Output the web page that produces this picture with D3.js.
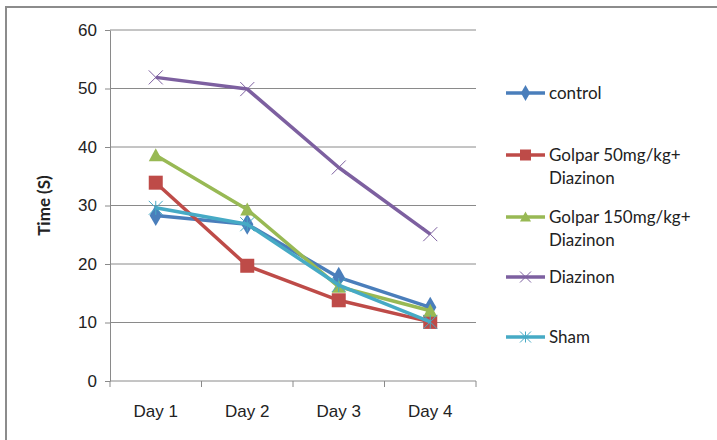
<!DOCTYPE html>
<html>
<head>
<meta charset="utf-8">
<script src="https://cdn.jsdelivr.net/npm/d3@7"></script>
<style>
  body { margin: 0; background: #fff; }
  svg { display: block; font-family: Lato, "Open Sans", sans-serif; }
</style>
</head>
<body>
<script>
// prettier-ignore
const days = ["Day 1", "Day 2", "Day 3", "Day 4"];
const yTicks = [0, 10, 20, 30, 40, 50, 60];

const controlValues = [28.3, 26.8, 17.7, 12.6];
const golpar50Values = [33.9, 19.7, 13.8, 10.1];
const golpar150Values = [38.6, 29.3, 16.1, 12.0];
const diazinonValues = [51.9, 49.9, 36.5, 25.1];
const shamValues = [29.6, 26.8, 16.4, 10.1];

const seriesNames = [
  ["control"],
  ["Golpar 50mg/kg+", "Diazinon"],
  ["Golpar 150mg/kg+", "Diazinon"],
  ["Diazinon"],
  ["Sham"],
];

const series = [
  { name: seriesNames[0], values: controlValues, color: "#4a7ebb", marker: "diamond" },
  { name: seriesNames[1], values: golpar50Values, color: "#be4b48", marker: "square" },
  { name: seriesNames[2], values: golpar150Values, color: "#98b954", marker: "triangle" },
  { name: seriesNames[3], values: diazinonValues, color: "#7d60a0", marker: "x" },
  { name: seriesNames[4], values: shamValues, color: "#46aac5", marker: "star" },
];

const width = 717;
const height = 440;
const margin = { top: 30, left: 110, right: 241, bottom: 59 };
const fontSize = "17px";

const svg = d3
  .select("body")
  .append("svg")
  .attr("width", width)
  .attr("height", height);

// outer chart frame
svg
  .append("rect")
  .attr("x", 6)
  .attr("y", 7)
  .attr("width", 740)
  .attr("height", 460)
  .attr("fill", "none")
  .attr("stroke", "#8c8c8c")
  .attr("stroke-width", 2);

const xScale = d3
  .scaleBand()
  .domain(days)
  .range([margin.left, width - margin.right]);

const yScale = d3
  .scaleLinear()
  .domain([0, 60])
  .range([height - margin.bottom, margin.top]);

// gridlines
svg
  .append("g")
  .selectAll("line")
  .data(yTicks.filter((d) => d > 0))
  .join("line")
  .attr("x1", margin.left)
  .attr("x2", width - margin.right)
  .attr("y1", (d) => yScale(d))
  .attr("y2", (d) => yScale(d))
  .attr("stroke", "#8a8a8a")
  .attr("stroke-width", 1);

const yAxis = d3
  .axisLeft(yScale)
  .tickValues(yTicks)
  .tickSize(5)
  .tickPadding(8)
  .tickSizeOuter(0);

const yAxisGroup = svg
  .append("g")
  .attr("transform", `translate(${margin.left},0)`)
  .call(yAxis);

const xAxis = d3.axisBottom(xScale).tickSize(0).tickPadding(24);

const xAxisGroup = svg
  .append("g")
  .attr("transform", `translate(0,${yScale(0)})`)
  .call(xAxis);

// tick marks between categories on x axis
xAxisGroup
  .selectAll("line.sep")
  .data(days.map((d) => xScale(d)).concat([xScale.range()[1]]))
  .join("line")
  .attr("class", "sep")
  .attr("x1", (d) => d)
  .attr("x2", (d) => d)
  .attr("y1", 0)
  .attr("y2", 6)
  .attr("stroke", "#8a8a8a");

[yAxisGroup, xAxisGroup].forEach((g) => {
  g.selectAll(".domain, .tick line").attr("stroke", "#8a8a8a");
  g.selectAll("text")
    .attr("fill", "#222")
    .style("font-size", fontSize);
});
xAxisGroup.select(".domain").attr("d", `M${xScale.range()[0]},0H${xScale.range()[1]}`);

svg
  .append("text")
  .attr("transform", `translate(50,${(yScale(0) + yScale(60)) / 2}) rotate(-90)`)
  .attr("text-anchor", "middle")
  .style("font-size", fontSize)
  .style("font-weight", "bold")
  .attr("fill", "#222")
  .text("Time (S)");

const xCenter = (d) => xScale(d) + xScale.bandwidth() / 2;

const drawMarker = (g, type, color, size) => {
  if (type === "diamond") {
    g.append("path")
      .attr("d", d3.symbol(d3.symbolDiamond, size * size * 0.9)())
      .attr("fill", color);
  } else if (type === "square") {
    g.append("rect")
      .attr("x", -size / 2)
      .attr("y", -size / 2)
      .attr("width", size)
      .attr("height", size)
      .attr("fill", color);
  } else if (type === "triangle") {
    g.append("path")
      .attr("d", `M0,${-size / 2 - 1}L${size / 2 + 1},${size / 2}L${-size / 2 - 1},${size / 2}Z`)
      .attr("fill", color);
  } else if (type === "x") {
    const s = size / 2 + 1;
    g.append("path")
      .attr("d", `M${-s},${-s}L${s},${s}M${-s},${s}L${s},${-s}`)
      .attr("stroke", color)
      .attr("stroke-width", 1);
  } else if (type === "star") {
    const s = size / 2 + 1;
    g.append("path")
      .attr("d", `M${-s},${-s}L${s},${s}M${-s},${s}L${s},${-s}M0,${-s}L0,${s}`)
      .attr("stroke", color)
      .attr("stroke-width", 1);
  }
};

const line = d3
  .line()
  .x((d, i) => xCenter(days[i]))
  .y((d) => yScale(d));

const seriesGroups = svg
  .append("g")
  .selectAll("g.series")
  .data(series)
  .join("g")
  .attr("class", "series");

seriesGroups
  .append("path")
  .attr("d", (d) => line(d.values))
  .attr("fill", "none")
  .attr("stroke", (d) => d.color)
  .attr("stroke-width", 3.5)
  .attr("stroke-linejoin", "round");

seriesGroups.each(function (s) {
  const g = d3.select(this);
  s.values.forEach((v, i) => {
    const m = g
      .append("g")
      .attr("transform", `translate(${xCenter(days[i])},${yScale(v)})`);
    drawMarker(m, s.marker, s.color, s.marker === "square" ? 14 : 12);
  });
});

// legend
const legendRows = [93, 155, 217, 277, 337];
const legend = svg
  .append("g")
  .selectAll("g.legend")
  .data(series)
  .join("g")
  .attr("class", "legend")
  .attr("transform", (d, i) => `translate(506,${legendRows[i]})`);

legend
  .append("line")
  .attr("x1", 0)
  .attr("x2", 39)
  .attr("stroke", (d) => d.color)
  .attr("stroke-width", 3.5);

legend.each(function (s) {
  const m = d3.select(this).append("g").attr("transform", "translate(19.5,0)");
  drawMarker(m, s.marker, s.color, s.marker === "square" ? 11 : 9);
});

legend
  .append("text")
  .attr("x", 43)
  .attr("fill", "#222")
  .style("font-size", fontSize)
  .selectAll("tspan")
  .data((d) => d.name)
  .join("tspan")
  .attr("x", 43)
  .attr("dy", (d, i) => (i === 0 ? "0.35em" : "23px"))
  .text((d) => d);
</script>
</body>
</html>
